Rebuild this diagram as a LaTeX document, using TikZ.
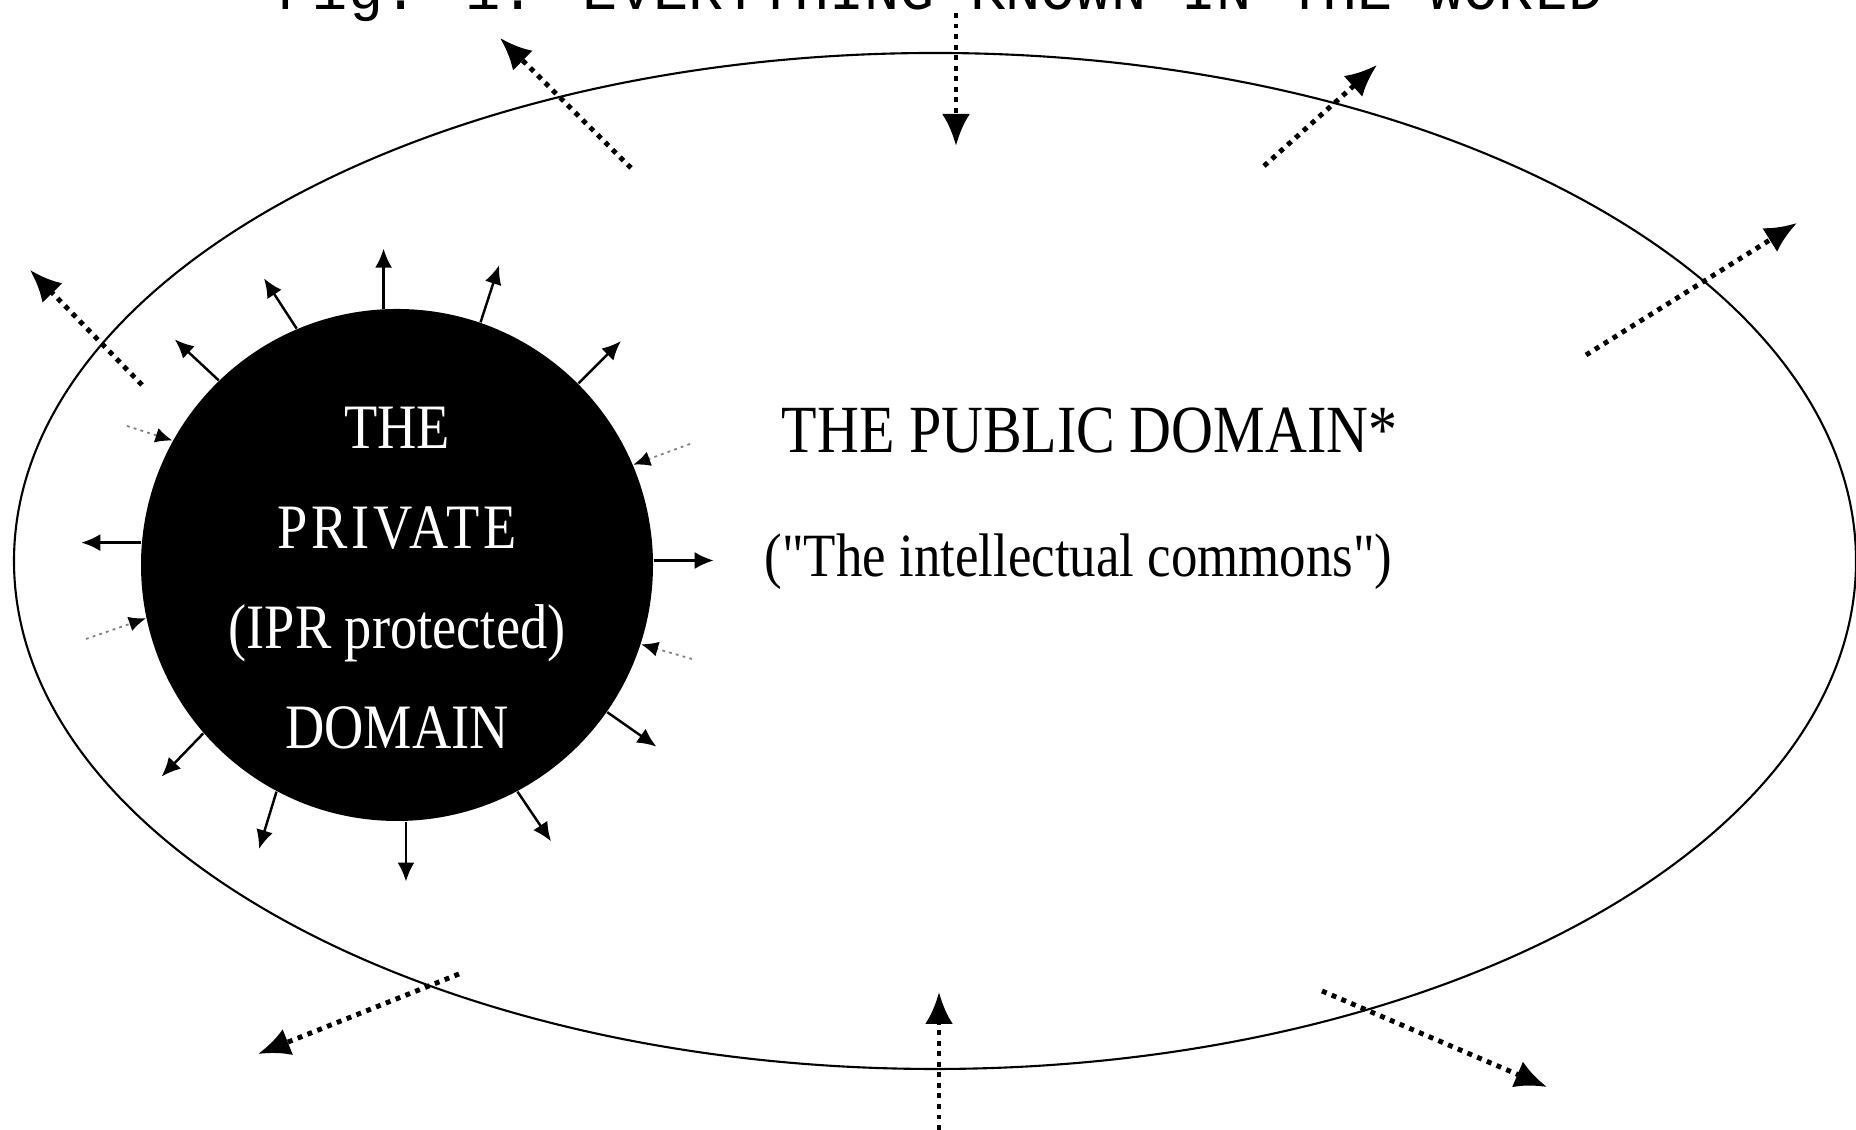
\documentclass[tikz,border=0pt]{standalone}
\usepackage{fontspec}
\setmainfont{Liberation Serif}[FakeStretch=0.86]
% no TeX ligature mapping here, so " stays a straight quote
\newfontfamily\domainfont{Liberation Serif}[FakeStretch=0.86]
\newfontfamily\titlefont{Liberation Mono}
\usetikzlibrary{arrows.meta,calc,positioning}
\tikzset{
  privdom/.style={circle,fill=black,draw=none,minimum size=5.12cm,inner sep=0pt},
  privtext/.style={text=white,align=center,inner sep=0pt,
    font=\domainfont\fontsize{18}{28.5}\selectfont},
  pubtext/.style={anchor=base west,inner sep=0pt},
  % short solid arrows leaving the black disc
  outarr/.style={-{Latex[length=1.9mm,width=1.7mm]},line width=0.7pt},
  % heavy dotted arrows across the big ellipse
  bigflow/.style={-{Latex[length=3.2mm,width=2.8mm]},line width=1.4pt,
    dash pattern=on 1.4pt off 1.6pt},
  % faint dotted arrows entering the disc
  leak/.style={-{Latex[length=1.7mm,width=1.5mm,color=black]},line width=0.5pt,
    black!50,dash pattern=on 0.8pt off 1.2pt}
}

\begin{document}
\begin{tikzpicture}
  \fill[white] (0,0) rectangle (18.56,11.30);
  \useasboundingbox (0,0) rectangle (18.56,11.30);
  \node[font=\titlefont\fontsize{16.7}{20}\selectfont,anchor=base] (title) at (9.41,11.20)
    {Fig. 1: EVERYTHING KNOWN IN THE WORLD};
  \draw[line width=0.6pt] (9.35,5.69) ellipse (9.21 and 5.08);
  \node[privdom] (priv) at (3.97,5.65) {};
  \node[privtext] (privlbl) at ([yshift=-1.3mm]priv.center)
    {THE\\{\addfontfeature{LetterSpace=6}PRIVATE}\\(IPR protected)\\DOMAIN};
  \node[pubtext,font=\domainfont\fontsize{19.2}{23}\selectfont] (pd) at (7.81,6.77)
    {THE PUBLIC DOMAIN*};
  \node[pubtext,font=\domainfont\fontsize{17.5}{21}\selectfont] (commons) at (7.64,5.53)
    {("The intellectual commons")};
  % outward arrows: anchor angle / direction
  \foreach \a/\d in {1/0,45/45,71/72,93/90,113/123,134/137,175/180,221/226,
                     242/253,272/270,298/304,325/325}{
    \path (priv.\a) ++(\d:0.6) coordinate (tip\a);
    \draw[outarr] (priv.\a) -- (tip\a);
  }
  % inward leaks
  \coordinate (la) at (1.27,7.04);
  \coordinate (lb) at (6.90,6.86);
  \coordinate (lc) at (0.86,4.91);
  \coordinate (ld) at (6.92,4.71);
  \draw[leak] (la) -- (priv.151);
  \draw[leak] (lb) -- (priv.23);
  \draw[leak] (lc) -- (priv.192);
  \draw[leak] (ld) -- (priv.342);
  % flows across the boundary of the world
  \coordinate (upL0) at (6.31,9.62);  \coordinate (upL1) at (5.00,10.92);
  \coordinate (inT0) at (9.56,11.17); \coordinate (inT1) at (9.56,9.84);
  \coordinate (upR0) at (12.64,9.64); \coordinate (upR1) at (13.77,10.65);
  \coordinate (outR0) at (15.86,7.75); \coordinate (outR1) at (17.97,9.07);
  \coordinate (outL0) at (1.42,7.45); \coordinate (outL1) at (0.30,8.60);
  \coordinate (dnL0) at (4.59,1.56);  \coordinate (dnL1) at (2.58,0.76);
  \coordinate (inB0) at (9.39,0.00);  \coordinate (inB1) at (9.39,1.38);
  \coordinate (dnR0) at (13.22,1.39); \coordinate (dnR1) at (15.47,0.43);
  \foreach \f in {upL,inT,upR,outR,outL,dnL,inB,dnR}
    \draw[bigflow] (\f0) -- (\f1);
\end{tikzpicture}
\end{document}
